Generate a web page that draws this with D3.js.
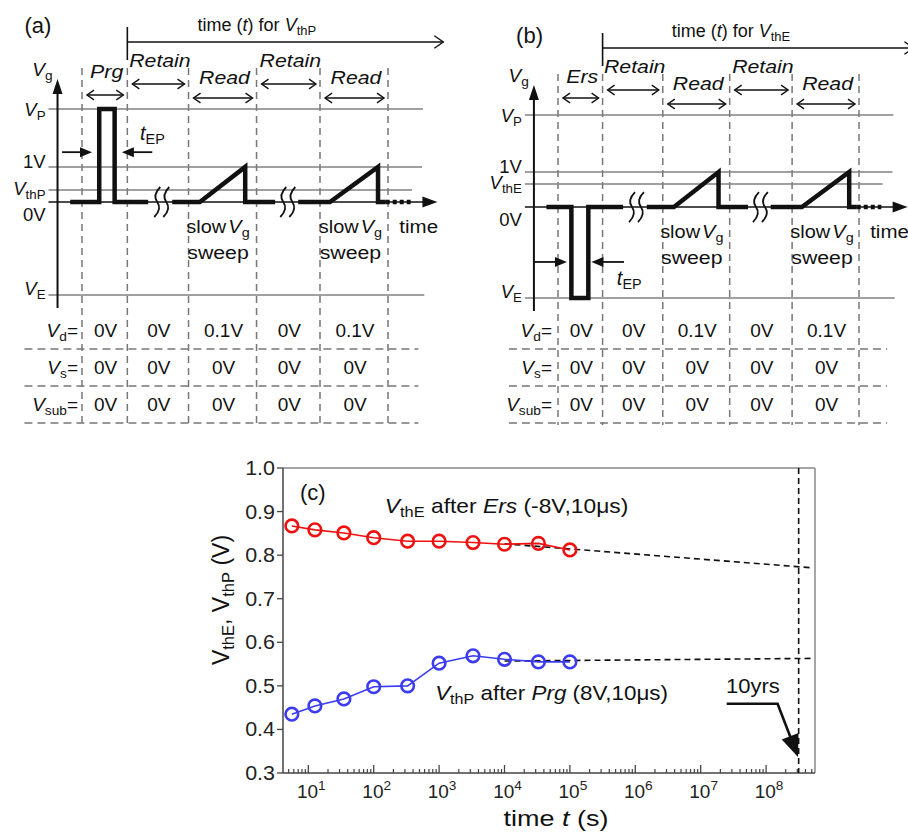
<!DOCTYPE html>
<html><head><meta charset="utf-8">
<script src="https://cdn.jsdelivr.net/npm/d3@7/dist/d3.min.js"></script>
<style>
body{margin:0;background:#fff;}
svg{display:block;font-family:"Liberation Sans",Arial,sans-serif;}
</style></head>
<body><svg id="fig" width="908" height="834"></svg>
<script>
// ---------------- DATA ----------------
// Panels (a),(b): timing schematics
const phasesA = ["Prg", "Retain", "Read", "Retain", "Read"];
const phasesB = ["Ers", "Retain", "Read", "Retain", "Read"];
const phaseWidths = [1, 1.35, 1.5, 1.4, 1.5];           // schematic durations
const levelNames = ["P", "1V", "th", "0V", "E"];
const levelValsA = [2.65, 1, 0.34, 0, -2.65];            // schematic gate levels (a)
const levelValsB = [2.63, 1, 0.66, 0, -2.60];            // schematic gate levels (b)
const rowNames = ["d", "s", "sub"];
const vdValues = ["0V", "0V", "0.1V", "0V", "0.1V"];
const vsValues = ["0V", "0V", "0V", "0V", "0V"];
const vsubValues = ["0V", "0V", "0V", "0V", "0V"];
const pulseA = [0.38, 0.72];
const pulseB = [0.30, 0.68];

// Panel (c): retention data
const timeS = [5.6, 12.6, 35, 100, 330, 1000, 3300, 1e4, 3.3e4, 1e5];
const vthE = [0.867, 0.858, 0.851, 0.840, 0.832, 0.832, 0.829, 0.825, 0.827, 0.812];
const vthP = [0.435, 0.454, 0.470, 0.498, 0.500, 0.552, 0.569, 0.561, 0.555, 0.555];
const extrapT = [1e4, 5e8];
const extrapE = [0.826, 0.771];
const extrapP = [0.557, 0.563];
const tenYears = 3.15e8;
const yTicks = [0.3, 0.4, 0.5, 0.6, 0.7, 0.8, 0.9, 1.0];
const xMajor = [1e1, 1e2, 1e3, 1e4, 1e5, 1e6, 1e7, 1e8];

// ---------------- HELPERS ----------------
const svg = d3.select("#fig");
svg.append("rect").attr("width", 908).attr("height", 834).attr("fill", "#fff");

function rich(text, parts, fs) {
  let shift = 0;
  parts.forEach(p => {
    const ts = text.append("tspan").text(p.t);
    const target = p.sub ? fs * 0.22 : p.sup ? -fs * 0.42 : 0;
    const dy = target - shift;
    if (dy !== 0) ts.attr("dy", dy);
    shift = target;
    if (p.sub || p.sup) ts.attr("font-size", fs * 0.72);
    if (p.i) ts.attr("font-style", "italic");
    if (p.dx) ts.attr("dx", p.dx);
  });
  return text;
}
function txt(g, x, y, parts, fs, anchor, fill, sx) {
  let t;
  if (sx) {
    t = g.append("g").attr("transform", `translate(${x},${y}) scale(${sx},1)`).append("text").attr("x", 0).attr("y", 0);
  } else {
    t = g.append("text").attr("x", x).attr("y", y);
  }
  t.attr("font-size", fs).attr("text-anchor", anchor || "start").attr("fill", fill || "#111");
  return rich(t, parts, fs);
}
function chevron(g, tx, ty, dir, size) {
  g.append("path").attr("d", `M${tx + dir * size},${ty - size * 0.7} L${tx},${ty} L${tx + dir * size},${ty + size * 0.7}`)
    .attr("fill", "none").attr("stroke", "#111").attr("stroke-width", 1.4);
}
function triHead(g, tx, ty, ux, uy, len, hw) {
  const bx = tx - ux * len, by = ty - uy * len;
  const px = -uy, py = ux;
  g.append("path").attr("d", `M${tx},${ty} L${bx + px * hw},${by + py * hw} L${bx - px * hw},${by - py * hw} Z`).attr("fill", "#111");
}

// ---------------- PANELS (a) and (b) ----------------
const panelCfg = [
  { label: "(a)", labelPos: [-1.27, -76], phases: phasesA, x0: 82, x1: 388, levelVals: levelValsA,
    yDomain: [-2.65, 2.65], yRange: [295, 109], thSub: "thP", pulse: pulseA, pulseLevel: 0,
    tEP: { v: 1.42, left: [-0.44, 0.22], right: [1.55, 0.88], text: [1.28, 1.77] },
    topText: "thP", tableX: [-1.27, 7.42], rowLabelDx: -4, vgLabel: -33 },
  { label: "(b)", labelPos: [-0.94, -72], phases: phasesB, x0: 558, x1: 859, levelVals: levelValsB,
    yDomain: [-2.60, 2.63], yRange: [298, 115], thSub: "thE", pulse: pulseB, pulseLevel: 4,
    tEP: { v: -1.57, left: [-0.54, 0.20], right: [1.48, 0.75], text: [1.32, -2.22] },
    topText: "thE", tableX: [-1.1, 7.38], rowLabelDx: -6, vgLabel: -33 }
];
const phaseOffsets = { Prg: [-31, -14], Ers: [-32, -17], Retain: [-42, -25], Read: [-25, -11] };
const levelBaseline = [7, 1, 5, 19, 0];
const levelEndU = [7.52, 7.5, 7.28, null, 7.55];
const valueRows = [vdValues, vsValues, vsubValues];

panelCfg.forEach(cfg => {
  const g = svg.append("g");
  const x = d3.scaleLinear().domain([0, d3.sum(phaseWidths)]).range([cfg.x0, cfg.x1]);
  const y = d3.scaleLinear().domain(cfg.yDomain).range(cfg.yRange);
  const bounds = [0, ...d3.cumsum(phaseWidths)];
  const lv = cfg.levelVals;
  const yP = y(lv[0]), y0 = y(0);
  const axisX = x(-0.54);
  const yTab = d3.scalePoint().domain(rowNames).range([337, 411]);
  const fs = 18.5;

  g.append("text").attr("x", x(cfg.labelPos[0])).attr("y", yP + cfg.labelPos[1]).attr("font-size", 22).attr("fill", "#111").text(cfg.label);

  // top time arrow
  g.append("line").attr("x1", x(1)).attr("x2", x(1)).attr("y1", yP - 82).attr("y2", yP - 49).attr("stroke", "#111").attr("stroke-width", 1.6);
  g.append("line").attr("x1", x(1)).attr("x2", x(7.97)).attr("y1", yP - 67).attr("y2", yP - 67).attr("stroke", "#111").attr("stroke-width", 1.6);
  chevron(g, x(7.97), yP - 67, -1, 9);
  txt(g, x(2.55), yP - 78, [{ t: "time (" }, { t: "t", i: true }, { t: ") for " }, { t: "V", i: true }, { t: cfg.topText, sub: true }], 18);

  // vertical dashed phase separators
  g.selectAll(".vd").data(bounds).join("line")
    .attr("x1", d => x(d)).attr("x2", d => x(d)).attr("y1", yP - 41).attr("y2", 425)
    .attr("stroke", "#777").attr("stroke-width", 1.5).attr("stroke-dasharray", "7,5");

  // phase labels and double arrows
  cfg.phases.forEach((p, i) => {
    const a = bounds[i], b = bounds[i + 1];
    const off = phaseOffsets[p];
    txt(g, x((a + b) / 2) + 2, yP + off[0], [{ t: p, i: true }], 19, "middle", "#111", 1.12);
    const xa = x(a) + 5, xb = x(b) - 4, ya = yP + off[1];
    g.append("line").attr("x1", xa).attr("x2", xb).attr("y1", ya).attr("y2", ya).attr("stroke", "#111").attr("stroke-width", 1.4);
    chevron(g, xa, ya, 1, 7);
    chevron(g, xb, ya, -1, 7);
  });

  // level lines
  levelNames.forEach((n, i) => {
    if (levelEndU[i] === null) return;
    g.append("line").attr("x1", axisX - 9).attr("x2", x(levelEndU[i])).attr("y1", y(lv[i])).attr("y2", y(lv[i]))
      .attr("stroke", "#808080").attr("stroke-width", 1.5);
  });
  const lblParts = [
    [{ t: "V", i: true }, { t: "P", sub: true }],
    [{ t: "1V" }],
    [{ t: "V", i: true }, { t: cfg.thSub, sub: true }],
    [{ t: "0V" }],
    [{ t: "V", i: true }, { t: "E", sub: true }]
  ];
  lblParts.forEach((parts, i) => txt(g, axisX - 12, y(lv[i]) + levelBaseline[i], parts, fs, "end"));

  // Vg axis
  g.append("line").attr("x1", axisX).attr("x2", axisX).attr("y1", yP - 20).attr("y2", y(lv[4]) + 13).attr("stroke", "#111").attr("stroke-width", 2);
  triHead(g, axisX, yP - 30, 0, -1, 15, 5);
  txt(g, axisX - 5, yP + cfg.vgLabel, [{ t: "V", i: true }, { t: "g", sub: true }], 19, "end");

  // 0V time axis
  g.append("line").attr("x1", axisX - 9).attr("x2", x(7.7)).attr("y1", y0).attr("y2", y0).attr("stroke", "#111").attr("stroke-width", 1.5);
  triHead(g, x(7.84), y0, 1, 0, 15, 5.5);

  // waveform
  const pl = lv[cfg.pulseLevel];
  const segs = [
    [[-0.26, 0], [cfg.pulse[0], 0], [cfg.pulse[0], pl], [cfg.pulse[1], pl], [cfg.pulse[1], 0], [1.46, 0]],
    [[1.99, 0], [2.6, 0], [3.6, 1], [3.6, 0], [4.26, 0]],
    [[4.77, 0], [5.47, 0], [6.53, 1], [6.53, 0], [6.7, 0]]
  ];
  const line = d3.line().x(d => x(d[0])).y(d => y(d[1]));
  segs.forEach(s => g.append("path").attr("d", line(s)).attr("fill", "none").attr("stroke", "#111")
    .attr("stroke-width", 4.5).attr("stroke-linejoin", "miter"));
  g.append("path").attr("d", line([[6.7, 0], [7.25, 0]])).attr("fill", "none").attr("stroke", "#111")
    .attr("stroke-width", 4.5).attr("stroke-dasharray", "4,3");
  [1.66, 1.86, 4.44, 4.64].forEach(u => {
    const bx = x(u);
    g.append("path").attr("d", `M${bx + 3},${y0 - 15} Q${bx - 5},${y0 - 7} ${bx},${y0} Q${bx + 5},${y0 + 7} ${bx - 3},${y0 + 15}`)
      .attr("fill", "none").attr("stroke", "#111").attr("stroke-width", 1.8);
  });

  // tEP arrows
  const yt = y(cfg.tEP.v);
  [cfg.tEP.left, cfg.tEP.right].forEach(([s, e]) => {
    const dir = e > s ? 1 : -1;
    g.append("line").attr("x1", x(s)).attr("x2", x(e) - dir * 8).attr("y1", yt).attr("y2", yt).attr("stroke", "#111").attr("stroke-width", 1.8);
    triHead(g, x(e), yt, dir, 0, 12, 5);
  });
  txt(g, x(cfg.tEP.text[0]), y(cfg.tEP.text[1]), [{ t: "t", i: true }, { t: "EP", sub: true }], 20);

  // slow Vg sweep
  [3.0, 5.92].forEach(u => {
    txt(g, x(u), y0 + 31, [{ t: "slow" }, { t: "V", i: true, dx: 2 }, { t: "g", sub: true }], 19, "middle", "#111", 1.05);
    txt(g, x(u), y0 + 57, [{ t: "sweep" }], 19, "middle", "#111", 1.12);
  });
  txt(g, x(7.0), y0 + 31, [{ t: "time" }], 19, "start", "#111", 1.08);

  // table
  rowNames.forEach((r, ri) => {
    const yb = yTab(r);
    g.append("line").attr("x1", x(cfg.tableX[0])).attr("x2", x(cfg.tableX[1])).attr("y1", yb + 12).attr("y2", yb + 12)
      .attr("stroke", "#777").attr("stroke-width", 1.5).attr("stroke-dasharray", "8,5");
    txt(g, x(0) + cfg.rowLabelDx, yb, [{ t: "V", i: true }, { t: r, sub: true }, { t: "=" }], 19, "end");
    valueRows[ri].forEach((v, ci) => {
      txt(g, x((bounds[ci] + bounds[ci + 1]) / 2) + 1, yb, [{ t: v }], 19, "middle");
    });
  });
});

// ---------------- PANEL (c) ----------------
const gc = svg.append("g");
const xC = d3.scaleLog().domain([4.1, 5.6e8]).range([283, 815]);
const yC = d3.scaleLinear().domain([0.3, 1.0]).range([773, 468]);
const [L, R] = xC.range(), [B, T] = yC.range();

gc.append("line").attr("x1", L).attr("x2", R).attr("y1", T).attr("y2", T).attr("stroke", "#888").attr("stroke-width", 1.5);
gc.append("line").attr("x1", R).attr("x2", R).attr("y1", T).attr("y2", B).attr("stroke", "#888").attr("stroke-width", 1.5);
gc.append("line").attr("x1", L).attr("x2", L).attr("y1", T).attr("y2", B).attr("stroke", "#444").attr("stroke-width", 1.5);
gc.append("line").attr("x1", L).attr("x2", R).attr("y1", B).attr("y2", B).attr("stroke", "#444").attr("stroke-width", 1.5);

gc.selectAll(".yt").data(yTicks).join("line").attr("x1", L - 6).attr("x2", L).attr("y1", d => yC(d)).attr("y2", d => yC(d))
  .attr("stroke", "#444").attr("stroke-width", 1.3);
yTicks.forEach(d => txt(gc, L - 8, yC(d) + 7, [{ t: d3.format(".1f")(d) }], 19.5, "end", "#222", 1.1));

const minor = [];
for (let k = 0; k <= 8; k++) for (let m = 2; m <= 9; m++) { const v = m * Math.pow(10, k); if (v >= 4.1 && v <= 5.6e8) minor.push(v); }
gc.selectAll(".xm").data(minor).join("line").attr("x1", d => xC(d)).attr("x2", d => xC(d)).attr("y1", B).attr("y2", B - 4)
  .attr("stroke", "#444").attr("stroke-width", 1.2);
gc.selectAll(".xM").data(xMajor).join("line").attr("x1", d => xC(d)).attr("x2", d => xC(d)).attr("y1", B).attr("y2", B - 8)
  .attr("stroke", "#444").attr("stroke-width", 1.3);
xMajor.forEach(v => txt(gc, xC(v) + 3, B + 25, [{ t: "10" }, { t: String(Math.round(Math.log10(v))), sup: true }], 19, "middle", "#222"));

txt(gc, (L + R) / 2 + 7, 826, [{ t: "time " }, { t: "t", i: true }, { t: " (s)" }], 22.5, "middle", "#111", 1.2);
const yl = gc.append("text").attr("transform", `translate(229,600) rotate(-90)`).attr("text-anchor", "middle")
  .attr("font-size", 23).attr("fill", "#111");
rich(yl, [{ t: "V" }, { t: "thE", sub: true }, { t: ",  V" }, { t: "thP", sub: true }, { t: " (V)" }], 23);

gc.append("text").attr("x", L + 17).attr("y", T + 32).attr("font-size", 22).attr("fill", "#111").text("(c)");

const dline = d3.line().x(d => xC(d[0])).y(d => yC(d[1]));
[extrapE, extrapP].forEach(ev => {
  gc.append("path").attr("d", dline(extrapT.map((t, i) => [t, ev[i]]))).attr("fill", "none").attr("stroke", "#111")
    .attr("stroke-width", 1.6).attr("stroke-dasharray", "6,4");
});
gc.append("line").attr("x1", xC(tenYears)).attr("x2", xC(tenYears)).attr("y1", T).attr("y2", B)
  .attr("stroke", "#111").attr("stroke-width", 1.6).attr("stroke-dasharray", "6,4");

const series = [{ v: vthE, c: "#f01010" }, { v: vthP, c: "#3b3bf2" }];
series.forEach(s => {
  const pts = timeS.map((t, i) => [t, s.v[i]]);
  gc.append("path").attr("d", dline(pts)).attr("fill", "none").attr("stroke", s.c).attr("stroke-width", 1.6);
  gc.selectAll(null).data(pts).join("circle").attr("cx", d => xC(d[0])).attr("cy", d => yC(d[1])).attr("r", 6.3)
    .attr("fill", "none").attr("stroke", s.c).attr("stroke-width", 2.6);
});

txt(gc, xC(148), yC(0.897), [{ t: "V", i: true }, { t: "thE", sub: true }, { t: " after " }, { t: "Ers", i: true }, { t: " (-8V,10μs)" }], 20, "start", "#111", 1.14);
txt(gc, xC(870), yC(0.468), [{ t: "V", i: true }, { t: "thP", sub: true }, { t: " after " }, { t: "Prg", i: true }, { t: " (8V,10μs)" }], 20, "start", "#111", 1.12);
txt(gc, xC(6.3e7), yC(0.484), [{ t: "10yrs" }], 20, "middle", "#111", 1.1);
const a0 = [xC(2.5e7), yC(0.459)], a1 = [xC(1.5e8), yC(0.459)], a2 = [xC(3.08e8), yC(0.337)];
const dx = a2[0] - a1[0], dy = a2[1] - a1[1], dl = Math.hypot(dx, dy);
gc.append("path").attr("d", `M${a0[0]},${a0[1]} L${a1[0]},${a1[1]} L${a2[0] - dx / dl * 14},${a2[1] - dy / dl * 14}`)
  .attr("fill", "none").attr("stroke", "#111").attr("stroke-width", 2.6);
triHead(gc, a2[0], a2[1], dx / dl, dy / dl, 22, 9);
</script></body></html>
